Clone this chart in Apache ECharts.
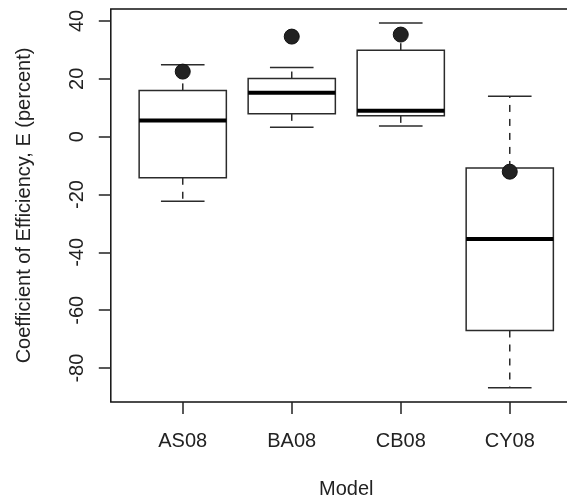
<!DOCTYPE html>
<html>
<head>
<meta charset="utf-8">
<script src="https://cdn.jsdelivr.net/npm/echarts@6/dist/echarts.min.js"></script>
<style>
  html, body { margin: 0; padding: 0; background: #fff; overflow: hidden; }
  /* plot region runs past the right edge of the window, like the original */
  #chart { width: 600px; height: 504px; }
</style>
</head>
<body>
<div id="chart"></div>
<script>
  // model names on the x axis
  var models = ['AS08', 'BA08', 'CB08', 'CY08']
  // box stats per model: lower whisker, Q1, median, Q3, upper whisker
  var whiskerLow = [-22.3, 3.3, 3.7, -86.8]
  var q1 = [-14.2, 7.9, 7.2, -67.0]
  var median = [5.6, 15.2, 9.0, -35.4]
  var q3 = [16.0, 20.1, 29.9, -10.8]
  var whiskerHigh = [24.9, 23.9, 39.3, 14.0]
  // the big filled dots
  var pointValues = [22.5, 34.6, 35.3, -12.1]
  var yTicks = [-80, -60, -40, -20, 0, 20, 40]

  var boxData = models.map(function (m, i) {
    return [i + 1, whiskerLow[i], q1[i], median[i], q3[i], whiskerHigh[i]]
  })
  var pointData = models.map(function (m, i) {
    return [i + 1, pointValues[i]]
  })

  var chart = echarts.init(document.getElementById('chart'))
  var font = 'Liberation Sans, Arial, Helvetica, sans-serif'

  function renderBox(params, api) {
    var x = api.value(0)
    var lo = api.coord([x, api.value(1)])
    var b1 = api.coord([x, api.value(2)])
    var md = api.coord([x, api.value(3)])
    var b3 = api.coord([x, api.value(4)])
    var hi = api.coord([x, api.value(5)])
    var halfBox = api.size([0.4, 0])[0]
    var halfCap = api.size([0.2, 0])[0]
    var cx = lo[0]
    var lineStyle = { stroke: '#2b2b2b', lineWidth: 1.5, fill: null }
    var dashStyle = { stroke: '#2b2b2b', lineWidth: 1.5, lineDash: [7, 7], fill: null }
    return {
      type: 'group',
      children: [
        { type: 'line', shape: { x1: cx, y1: b3[1], x2: cx, y2: hi[1] }, style: dashStyle },
        { type: 'line', shape: { x1: cx, y1: b1[1], x2: cx, y2: lo[1] }, style: dashStyle },
        { type: 'line', shape: { x1: cx - halfCap, y1: hi[1], x2: cx + halfCap, y2: hi[1] }, style: lineStyle },
        { type: 'line', shape: { x1: cx - halfCap, y1: lo[1], x2: cx + halfCap, y2: lo[1] }, style: lineStyle },
        {
          type: 'rect',
          shape: { x: cx - halfBox, y: b3[1], width: halfBox * 2, height: b1[1] - b3[1] },
          style: { fill: '#fff', stroke: '#2b2b2b', lineWidth: 1.5 }
        },
        { type: 'line', shape: { x1: cx - halfBox, y1: md[1], x2: cx + halfBox, y2: md[1] }, style: { stroke: '#000', lineWidth: 4 } }
      ]
    }
  }

  chart.setOption({
    animation: false,
    backgroundColor: '#fff',
    grid: {
      left: 110.8,
      top: 9,
      width: 470.9,
      height: 394,
      show: true,
      borderColor: '#111',
      borderWidth: 1.5
    },
    xAxis: {
      type: 'value',
      min: 0.34,
      max: 4.66,
      name: 'Model',
      nameLocation: 'middle',
      nameGap: 77,
      nameTextStyle: { fontFamily: font, fontSize: 20, color: '#222' },
      splitLine: { show: false },
      axisLine: { show: false, onZero: false },
      axisTick: {
        show: true,
        length: 12,
        customValues: [1, 2, 3, 4],
        lineStyle: { color: '#222', width: 1.5 }
      },
      axisLabel: {
        customValues: [1, 2, 3, 4],
        margin: 29,
        fontFamily: font,
        fontSize: 20,
        color: '#222',
        formatter: function (v) { return models[Math.round(v) - 1] }
      }
    },
    yAxis: {
      type: 'value',
      min: -91.72,
      max: 44.14,
      name: 'Coefficient of Efficiency, E (percent)',
      nameLocation: 'middle',
      nameRotate: 90,
      nameGap: 76,
      nameTextStyle: { fontFamily: font, fontSize: 20, color: '#222' },
      splitLine: { show: false },
      axisLine: { show: false, onZero: false },
      axisTick: {
        show: true,
        length: 12,
        customValues: yTicks,
        lineStyle: { color: '#222', width: 1.5 }
      },
      axisLabel: {
        customValues: yTicks,
        rotate: 90,
        margin: 23,
        fontFamily: font,
        fontSize: 20,
        color: '#222'
      }
    },
    series: [
      {
        type: 'custom',
        renderItem: renderBox,
        encode: { x: 0, y: [1, 2, 3, 4, 5] },
        data: boxData,
        z: 2
      },
      {
        type: 'scatter',
        data: pointData,
        symbol: 'circle',
        symbolSize: 15,
        itemStyle: { color: '#222', borderColor: '#111', borderWidth: 1, opacity: 1 },
        z: 3
      }
    ]
  })
</script>
</body>
</html>
